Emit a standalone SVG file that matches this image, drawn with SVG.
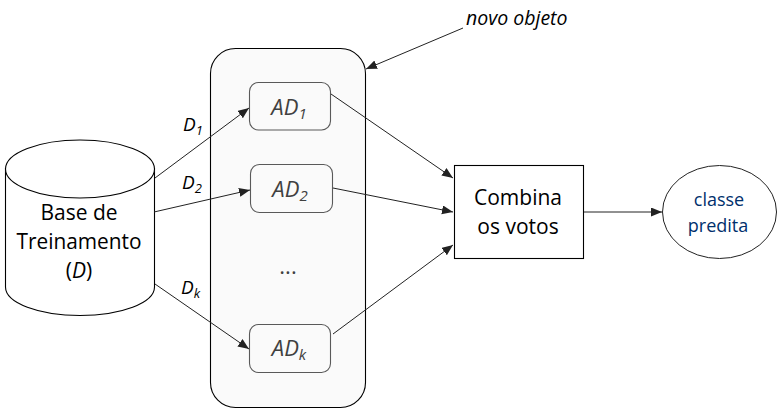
<svg xmlns="http://www.w3.org/2000/svg" width="778" height="412" viewBox="0 0 778 412">
<style>
text{font-family:"Open Sans","Noto Sans","Liberation Sans",sans-serif;fill:#000}
.m{text-anchor:middle}
.i{font-style:italic}
.big{font-size:21px}
.ad{font-size:22px;font-style:italic;fill:#404040;text-anchor:middle}
.d{font-size:19px;font-style:italic}
.sh{fill:#fff;stroke:#000;stroke-width:1.1}
.box{fill:#fafafa;stroke:#595959;stroke-width:1.1}
.c{fill:none;stroke:#222;stroke-width:1;marker-end:url(#a)}
.p{font-size:18px;fill:#002f6c}
</style>
<defs><marker id="a" markerUnits="userSpaceOnUse" markerWidth="12" markerHeight="10" refX="11" refY="4.500" orient="auto"><path d="M0 0L11 4.500L0 9Z" fill="#222"/></marker></defs>
<g id="panel"><rect x="210.500" y="48.500" width="155" height="359" rx="25" fill="#fafafa" stroke="#000" stroke-width="1.1"/></g>
<g id="base"><path class="sh" d="M5.500 168V287C5.500 303 39 315.500 80 315.500S154.500 303 154.500 287V168"/><ellipse class="sh" cx="80" cy="169" rx="74.500" ry="29"/>
<text class="big m" x="79" y="220">Base de</text><text class="big m" x="79" y="249" textLength="125" lengthAdjust="spacingAndGlyphs">Treinamento</text><text class="big m" x="79" y="278">(<tspan class="i">D</tspan>)</text></g>
<g id="ad1"><rect class="box" x="249.500" y="82.500" width="81" height="47.500" rx="9"/><text class="ad" x="289" y="115">AD<tspan font-size="15" dy="4">1</tspan></text></g>
<g id="ad2"><rect class="box" x="250.500" y="164.500" width="82" height="48" rx="9"/><text class="ad" x="290" y="197">AD<tspan font-size="15" dy="4">2</tspan></text></g>
<g id="dots"><text x="288" y="274" class="m" font-size="22" style="fill:#404040">...</text></g>
<g id="adk"><rect class="box" x="249.500" y="324.500" width="81" height="48" rx="9"/><text class="ad" x="289" y="356">AD<tspan font-size="15" dy="4">k</tspan></text></g>
<g id="combina"><rect class="sh" x="454.500" y="165.500" width="129" height="93"/><text class="big m" x="518" y="205">Combina</text><text class="big m" x="518" y="234">os votos</text></g>
<g id="classe"><ellipse cx="719.500" cy="212" rx="57" ry="46.500" fill="#fff" stroke="#222" stroke-width="1"/><text class="m p" x="719" y="206">classe</text><text class="m p" x="718" y="232">predita</text></g>
<g id="connectors">
<path class="c" d="M155 178L249 108"/><path class="c" d="M154 212L250 190"/><path class="c" d="M155 284L249 349"/>
<path class="c" d="M331 94L453 178"/><path class="c" d="M333 188L453 212"/><path class="c" d="M333 334L453 245"/>
<path class="c" d="M584 212L662 212"/><path class="c" d="M463 28L366 69"/></g>
<g id="labels"><text class="d" x="183" y="131">D<tspan font-size="13" dy="4">1</tspan></text><text class="d" x="182" y="189">D<tspan font-size="13" dy="4">2</tspan></text><text class="d" x="181" y="294">D<tspan font-size="13" dy="4">k</tspan></text>
<text class="i" x="466" y="25" font-size="19.500">novo objeto</text></g>
</svg>
